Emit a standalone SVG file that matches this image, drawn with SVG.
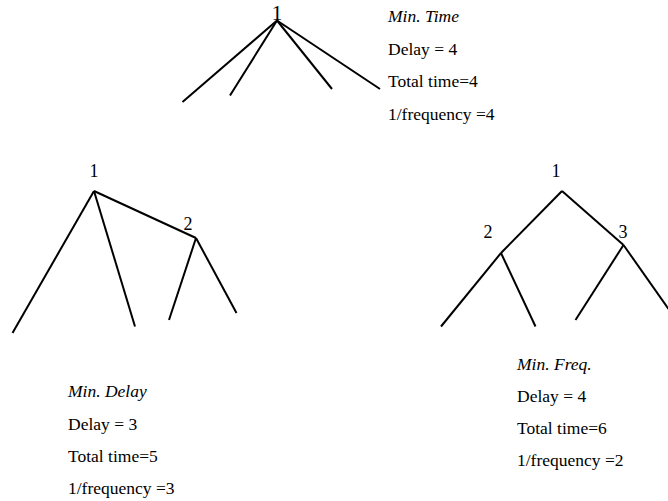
<svg xmlns="http://www.w3.org/2000/svg" width="668" height="501" viewBox="0 0 668 501">
<style>
.e{stroke:#000;stroke-width:2;fill:none;stroke-linecap:butt}
.t{font-family:"Liberation Serif","Times New Roman",serif;font-size:17.5px;fill:#000}
.i{font-style:italic}
.n{font-family:"Liberation Serif","Times New Roman",serif;font-size:18px;fill:#000;text-anchor:middle}
</style>
<rect width="668" height="501" fill="#fff"/>
<g id="connectors">
<line class="e" x1="277" y1="20.5" x2="182.5" y2="102"/>
<line class="e" x1="277" y1="20.5" x2="230" y2="95.5"/>
<line class="e" x1="277" y1="20.5" x2="332" y2="89"/>
<line class="e" x1="277" y1="20.5" x2="380" y2="89"/>
<line class="e" x1="94" y1="191" x2="12.5" y2="333"/>
<line class="e" x1="94" y1="191" x2="135" y2="326.5"/>
<line class="e" x1="94" y1="191" x2="196" y2="238"/>
<line class="e" x1="196" y1="238" x2="169" y2="320"/>
<line class="e" x1="196" y1="238" x2="236.5" y2="313"/>
<line class="e" x1="562" y1="191" x2="501" y2="253"/>
<line class="e" x1="562" y1="191" x2="623.5" y2="245"/>
<line class="e" x1="501" y1="253" x2="441" y2="326.5"/>
<line class="e" x1="501" y1="253" x2="535.5" y2="326.5"/>
<line class="e" x1="623.5" y1="245" x2="575.5" y2="320"/>
<line class="e" x1="623.5" y1="245" x2="668.5" y2="309"/>
</g>
<g id="top-root"><text class="n" x="277" y="20" style="font-size:22px">1</text></g>
<g id="top-info">
<text class="t i" x="388" y="22">Min. Time</text>
<text class="t" x="388" y="55">Delay = 4</text>
<text class="t" x="388" y="87">Total time=4</text>
<text class="t" x="388" y="120">1/frequency =4</text>
</g>
<g id="left-root"><text class="n" x="94" y="176.5">1</text></g>
<g id="left-node2"><text class="n" x="188" y="230">2</text></g>
<g id="left-info">
<text class="t i" x="68" y="397">Min. Delay</text>
<text class="t" x="68" y="430">Delay = 3</text>
<text class="t" x="68" y="461.5">Total time=5</text>
<text class="t" x="68" y="493.5">1/frequency =3</text>
</g>
<g id="right-root"><text class="n" x="556" y="176.5">1</text></g>
<g id="right-node2"><text class="n" x="488" y="237.5">2</text></g>
<g id="right-node3"><text class="n" x="623" y="237.5">3</text></g>
<g id="right-info">
<text class="t i" x="517" y="370">Min. Freq.</text>
<text class="t" x="517" y="402">Delay = 4</text>
<text class="t" x="517" y="434">Total time=6</text>
<text class="t" x="517" y="466">1/frequency =2</text>
</g>
</svg>
